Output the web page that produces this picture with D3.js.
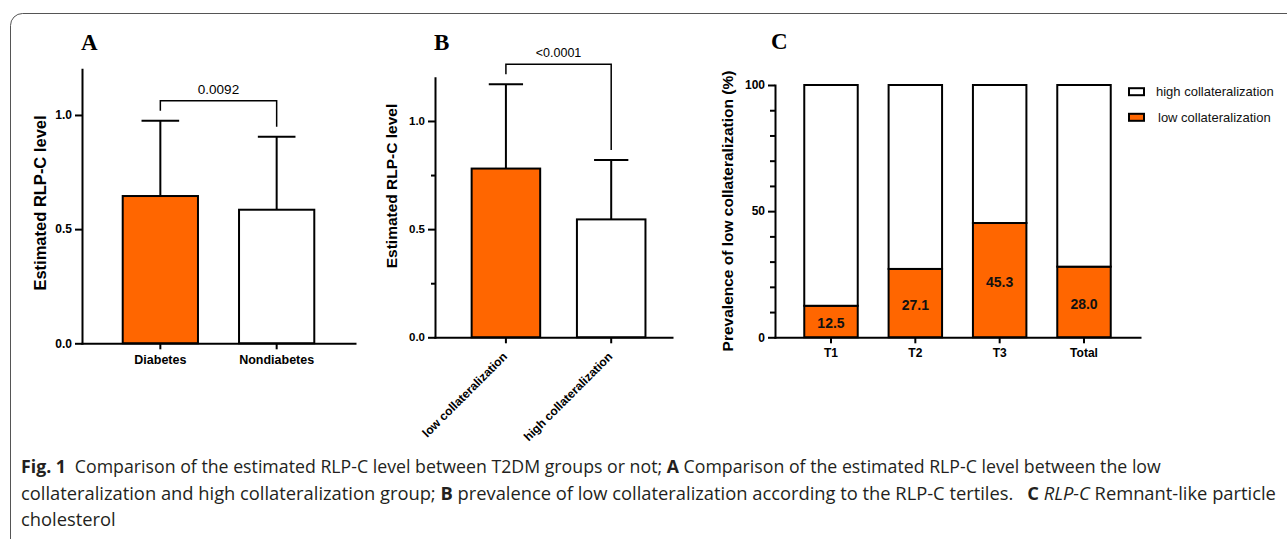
<!DOCTYPE html>
<html>
<head>
<meta charset="utf-8">
<script src="https://cdn.jsdelivr.net/npm/d3@7"></script>
<style>
  body { margin: 0; background: #fff; }
  svg { display: block; }
</style>
</head>
<body>
<script>
// panel A
var groupsA = ["Diabetes", "Nondiabetes"];
var meanA = [0.645, 0.585];
var sdA = [0.33, 0.32];
var pA = "0.0092";

// panel B
var groupsB = ["low collateralization", "high collateralization"];
var meanB = [0.78, 0.545];
var sdB = [0.39, 0.275];
var pB = "<0.0001";

// panel C
var tertiles = ["T1", "T2", "T3", "Total"];
var lowPct = [12.5, 27.1, 45.3, 28.0];
var highPct = [87.5, 72.9, 54.7, 72.0];
var legendC = ["high collateralization", "low collateralization"];

var ticksAB = [0, 0.5, 1.0];
var minorB = [0.25, 0.75];
var ticksC = [0, 50, 100];
var minorC = [10, 20, 30, 40, 60, 70, 80, 90];

var orange = "#ff6600";
var sans = "'Liberation Sans', Arial, sans-serif";

var svg = d3.select("body").append("svg")
    .attr("width", 1287)
    .attr("height", 539);

svg.append("rect").attr("width", 1287).attr("height", 539).attr("fill", "#fff");

// frame around the figure
svg.append("rect")
    .attr("x", 10.5).attr("y", 13.5)
    .attr("width", 1320).attr("height", 600)
    .attr("rx", 12).attr("ry", 12)
    .attr("fill", "none")
    .attr("stroke", "#555")
    .attr("stroke-width", 1);

function styleAxis(sel, size) {
  sel.attr("font-family", sans).attr("font-size", size).attr("font-weight", "bold");
  sel.selectAll("text").attr("fill", "#000");
  sel.selectAll("line").attr("stroke", "#000").attr("stroke-width", 2);
  sel.select(".domain").attr("stroke", "#000").attr("stroke-width", 2).attr("stroke-linecap", "square");
}

function panelLetter(txt, x, y) {
  svg.append("text")
      .text(txt)
      .attr("x", x).attr("y", y)
      .attr("font-family", "'Liberation Serif', 'Times New Roman', serif")
      .attr("font-weight", "bold")
      .attr("font-size", 23)
      .attr("fill", "#000");
}

function yLabel(txt, x, y, size) {
  svg.append("text")
      .text(txt)
      .attr("transform", "translate(" + x + "," + y + ") rotate(-90)")
      .attr("text-anchor", "middle")
      .attr("dy", "0.35em")
      .attr("font-family", sans)
      .attr("font-weight", "bold")
      .attr("font-size", size)
      .attr("fill", "#000");
}

function drawBarPanel(cfg) {
  var g = svg.append("g");
  var x = d3.scaleBand().domain(cfg.groups)
      .range([cfg.x0, cfg.x1])
      .paddingInner(cfg.pi).paddingOuter(cfg.po).align(cfg.align);
  var y = d3.scaleLinear().domain([0, 1.2]).range([cfg.yBase, cfg.yTop]);
  var rows = cfg.groups.map(function(d, i) {
    return {name: d, mean: cfg.mean[i], sd: cfg.sd[i], fill: i == 0 ? orange : "#fff"};
  });

  // error bars (upper only)
  g.selectAll(".err").data(rows).enter().append("line")
      .attr("x1", function(d) { return x(d.name) + x.bandwidth() / 2; })
      .attr("x2", function(d) { return x(d.name) + x.bandwidth() / 2; })
      .attr("y1", function(d) { return y(d.mean); })
      .attr("y2", function(d) { return y(d.mean + d.sd); })
      .attr("stroke", "#000").attr("stroke-width", 2);
  g.selectAll(".cap").data(rows).enter().append("line")
      .attr("x1", function(d) { return x(d.name) + x.bandwidth() / 4; })
      .attr("x2", function(d) { return x(d.name) + x.bandwidth() * 3 / 4; })
      .attr("y1", function(d) { return y(d.mean + d.sd); })
      .attr("y2", function(d) { return y(d.mean + d.sd); })
      .attr("stroke", "#000").attr("stroke-width", 2);

  g.selectAll(".bar").data(rows).enter().append("rect")
      .attr("x", function(d) { return x(d.name); })
      .attr("y", function(d) { return y(d.mean); })
      .attr("width", x.bandwidth())
      .attr("height", function(d) { return y(0) - y(d.mean); })
      .attr("fill", function(d) { return d.fill; })
      .attr("stroke", "#000").attr("stroke-width", 2);

  // significance bracket
  var legs = rows.map(function(d) { return y(d.mean + d.sd) - 10; });
  var top = d3.min(legs) - 10;
  var cx = rows.map(function(d) { return x(d.name) + x.bandwidth() / 2; });
  g.append("path")
      .attr("d", "M" + cx[0] + "," + legs[0] + "V" + top + "H" + cx[1] + "V" + legs[1])
      .attr("fill", "none").attr("stroke", "#000").attr("stroke-width", 1.5);
  g.append("text")
      .text(cfg.p)
      .attr("x", (cx[0] + cx[1]) / 2)
      .attr("y", top - cfg.pGap)
      .attr("text-anchor", "middle")
      .attr("font-family", sans)
      .attr("font-size", cfg.pSize)
      .attr("fill", "#000");

  // axes
  if (cfg.minor) {
    var mg = g.append("g").attr("transform", "translate(" + cfg.x0 + ",0)")
        .call(d3.axisLeft(y).tickValues(cfg.minor).tickSize(4).tickFormat(""));
    mg.select(".domain").remove();
    mg.selectAll("line").attr("stroke", "#000").attr("stroke-width", 2);
  }
  var ya = g.append("g").attr("transform", "translate(" + cfg.x0 + ",0)")
      .call(d3.axisLeft(y).tickValues(ticksAB).tickSize(7).tickSizeOuter(0)
        .tickPadding(3).tickFormat(d3.format(".1f")));
  styleAxis(ya, cfg.tickSize);

  var xa = g.append("g").attr("transform", "translate(0," + cfg.yBase + ")")
      .call(d3.axisBottom(x).tickSize(6).tickSizeOuter(0).tickPadding(6));
  styleAxis(xa, cfg.xSize);
  if (cfg.rotate) {
    xa.selectAll(".tick text")
        .attr("transform", "translate(-4,14) rotate(-45)")
        .attr("x", 0).attr("y", 0)
        .attr("dy", "0.71em")
        .attr("text-anchor", "end");
  }
  return g;
}

drawBarPanel({
  groups: groupsA, mean: meanA, sd: sdA, p: pA,
  x0: 82, x1: 355, pi: 0.353, po: 0.35, align: 0.5,
  yBase: 343.3, yTop: 69.3,
  tickSize: 12, xSize: 12.5, pSize: 13.5, pGap: 7
});

drawBarPanel({
  groups: groupsB, mean: meanB, sd: sdB, p: pB, minor: minorB,
  x0: 435, x1: 672, pi: 0.349, po: 0.30, align: 0.58,
  yBase: 337.3, yTop: 77.7,
  tickSize: 11.5, xSize: 12, pSize: 12.5, pGap: 7.5, rotate: true
});

panelLetter("A", 81, 50);
panelLetter("B", 434, 49.5);
panelLetter("C", 771, 48.5);

yLabel("Estimated RLP-C level", 40, 203, 16.5);
yLabel("Estimated RLP-C level", 392, 186, 15.5);
yLabel("Prevalence of low collateralization (%)", 728, 211, 15.5);

// panel C: stacked percentage bars
var gC = svg.append("g");
var xC = d3.scaleBand().domain(tertiles).range([775, 1140])
    .paddingInner(0.366).paddingOuter(0.347).align(0.5);
var yC = d3.scaleLinear().domain([0, 100]).range([337.3, 85]);

var stackRows = tertiles.map(function(t, i) {
  return {name: t, low: lowPct[i], high: highPct[i]};
});
var stacked = d3.stack().keys(["low", "high"])(stackRows);

gC.selectAll(".layer").data(stacked).enter().append("g")
    .attr("fill", function(d) { return d.key == "low" ? orange : "#fff"; })
  .selectAll("rect").data(function(d) { return d; }).enter().append("rect")
    .attr("x", function(d) { return xC(d.data.name); })
    .attr("y", function(d) { return yC(d[1]); })
    .attr("width", xC.bandwidth())
    .attr("height", function(d) { return yC(d[0]) - yC(d[1]); })
    .attr("stroke", "#000").attr("stroke-width", 2);

gC.selectAll(".val").data(stackRows).enter().append("text")
    .text(function(d) { return d.low.toFixed(1); })
    .attr("x", function(d) { return xC(d.name) + xC.bandwidth() / 2; })
    .attr("y", function(d) { return (yC(0) + yC(d.low)) / 2 + 2; })
    .attr("dy", "0.35em")
    .attr("text-anchor", "middle")
    .attr("font-family", sans)
    .attr("font-weight", "bold")
    .attr("font-size", 14)
    .attr("fill", "#111");

var mC = gC.append("g").attr("transform", "translate(775,0)")
    .call(d3.axisLeft(yC).tickValues(minorC).tickSize(5).tickFormat(""));
mC.select(".domain").remove();
mC.selectAll("line").attr("stroke", "#000").attr("stroke-width", 2);

var yaC = gC.append("g").attr("transform", "translate(775,0)")
    .call(d3.axisLeft(yC).tickValues(ticksC).tickSize(7).tickSizeOuter(0).tickPadding(3));
styleAxis(yaC, 12);

var xaC = gC.append("g").attr("transform", "translate(0,337.3)")
    .call(d3.axisBottom(xC).tickSize(6).tickSizeOuter(0).tickPadding(5.5));
styleAxis(xaC, 12);

// legend
var leg = gC.selectAll(".leg").data(legendC).enter().append("g")
    .attr("transform", function(d, i) { return "translate(1129," + (91.7 + i * 25.6) + ")"; });
leg.append("rect")
    .attr("x", 0).attr("y", -3.5)
    .attr("width", 15).attr("height", 7)
    .attr("fill", function(d, i) { return i == 0 ? "#fff" : orange; })
    .attr("stroke", "#000").attr("stroke-width", 2);
leg.append("text")
    .text(function(d) { return d; })
    .attr("x", function(d, i) { return i == 0 ? 27 : 29; })
    .attr("dy", "0.35em")
    .attr("font-family", sans)
    .attr("font-size", 13)
    .attr("fill", "#111");

// caption
var capFont = "'Open Sans', 'Noto Sans', sans-serif";
var captionLines = [
  [["Fig. 1", "b"], ["\u2002Comparison of the estimated RLP-C level between T2DM groups or not; ", ""], ["A", "b"],
   [" Comparison of the estimated RLP-C level between the low", ""]],
  [["collateralization and high collateralization group; ", ""], ["B", "b"],
   [" prevalence of low collateralization according to the RLP-C tertiles. \u2002", ""], ["C", "b"], [" ", ""],
   ["RLP-C", "i"], [" Remnant-like particle", ""]],
  [["cholesterol", ""]]
];
var capY = [473, 499.5, 526];
var capRight = [1162, 1277, null];
var capNodes = captionLines.map(function(parts, li) {
  var t = svg.append("text")
      .attr("x", 0).attr("y", 0)
      .attr("font-family", capFont)
      .attr("font-size", 17.5)
      .attr("fill", "#231f20")
      .attr("xml:space", "preserve")
      .style("white-space", "pre");
  parts.forEach(function(p) {
    t.append("tspan")
        .text(p[0])
        .attr("font-weight", p[1] == "b" ? "bold" : null)
        .attr("font-style", p[1] == "i" ? "italic" : null);
  });
  return t;
});
// squeeze each caption line to the width it has in the figure
var lastScale = 1;
capNodes.forEach(function(t, i) {
  if (capRight[i]) lastScale = (capRight[i] - 21) / t.node().getComputedTextLength();
  t.attr("transform", "translate(21," + capY[i] + ") scale(" + lastScale + ",1)");
});
</script>
</body>
</html>
